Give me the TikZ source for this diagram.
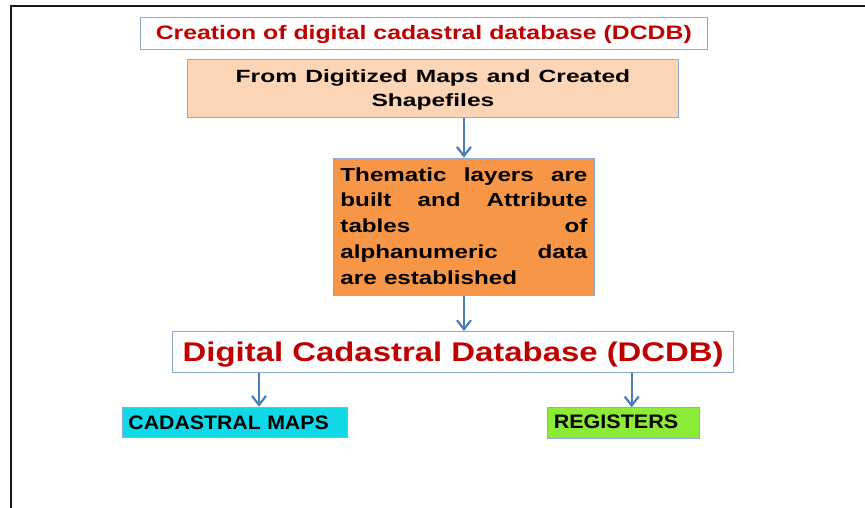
\documentclass[tikz,border=0pt]{standalone}
\usepackage{fontspec}
\setmainfont{Liberation Sans}
\usepackage{graphicx}
\usetikzlibrary{arrows.meta}
\definecolor{dred}{HTML}{C00000}
\definecolor{bord}{HTML}{8EAADB}
\definecolor{peach}{HTML}{FBD5B5}
\definecolor{orng}{HTML}{F79646}
\definecolor{cyanb}{HTML}{11D8E6}
\definecolor{greenb}{HTML}{8BEB37}
\definecolor{arr}{HTML}{4A7EBB}
\begin{document}
\begin{tikzpicture}[x=1pt,y=-1pt,
  box/.style={draw=bord, line width=0.9pt, inner xsep=0pt, inner ysep=0pt, anchor=north west, font=\bfseries},
  arrowline/.style={draw=arr, line width=2.2pt, -{Straight Barb[length=9pt,width=14pt,line width=2.2pt]}}]
\useasboundingbox (0,0) rectangle (865,508);
\draw[line width=1.7pt, color=black!90] (11,508) -- (11,6.3) -- (865,6.3);

\node[box, fill=white, minimum width=566.7pt, text height=22pt, text depth=10.3pt, text=dred] (title) at (140,16.7)
  {\resizebox{536pt}{\height}{\fontsize{19.5}{22}\selectfont\bfseries Creation of digital cadastral database (DCDB)}};

\node[box, fill=peach, text width=490.4pt, align=center, text height=22.7pt, text depth=35.6pt,
  font=\bfseries\fontsize{17.7}{24.3}\selectfont] (maps) at (187.3,59)
  {\scalebox{1.388}[1]{From Digitized Maps and Created}\\ \scalebox{1.388}[1]{Shapefiles}};

\node[box, fill=orng, text width=247pt, inner xsep=7.3pt, text height=23pt, text depth=114.3pt] (them) at (332.7,157.7)
  {\resizebox{247pt}{\height}{\parbox[t]{193pt}{\fontsize{18.9}{25.8}\selectfont\bfseries
  \makebox[193pt][l]{Thematic\hfill layers\hfill are}\\
  \makebox[193pt][l]{built\hfill and\hfill Attribute}\\
  \makebox[193pt][l]{tables\hfill of}\\
  \makebox[193pt][l]{alphanumeric\hfill data}\\
  \makebox[193pt][l]{are\hspace{0.3em}established\hfill}}}};

\node[box, fill=white, minimum width=561pt, text height=30pt, text depth=10.7pt, text=dred] (dcdb) at (172.3,331)
  {\resizebox{541pt}{\height}{\fontsize{27}{30}\selectfont\bfseries Digital Cadastral Database (DCDB)}};

\node[box, fill=cyanb, inner xsep=6pt, text width=212.7pt, align=left, text height=22.3pt, text depth=7.7pt] (cmaps) at (122,406.7)
  {\resizebox{200.3pt}{\height}{\fontsize{19.5}{22}\selectfont\bfseries CADASTRAL\hspace{0.3em}MAPS}};

\node[box, fill=greenb, inner xsep=6.6pt, text width=139.4pt, align=left, text height=21pt, text depth=9.4pt] (reg) at (546.7,407.3)
  {\resizebox{124.4pt}{\height}{\fontsize{19.5}{22}\selectfont\bfseries REGISTERS}};

\coordinate (la) at (259,390);
\coordinate (ra) at (631.7,390);
\draw[arrowline] (maps.south -| them.north) -- (them.north);
\draw[arrowline] (them.south) -- (them.south |- dcdb.north);
\draw[arrowline] (dcdb.south -| la) -- (cmaps.north -| la);
\draw[arrowline] (dcdb.south -| ra) -- (reg.north -| ra);
\end{tikzpicture}
\end{document}
